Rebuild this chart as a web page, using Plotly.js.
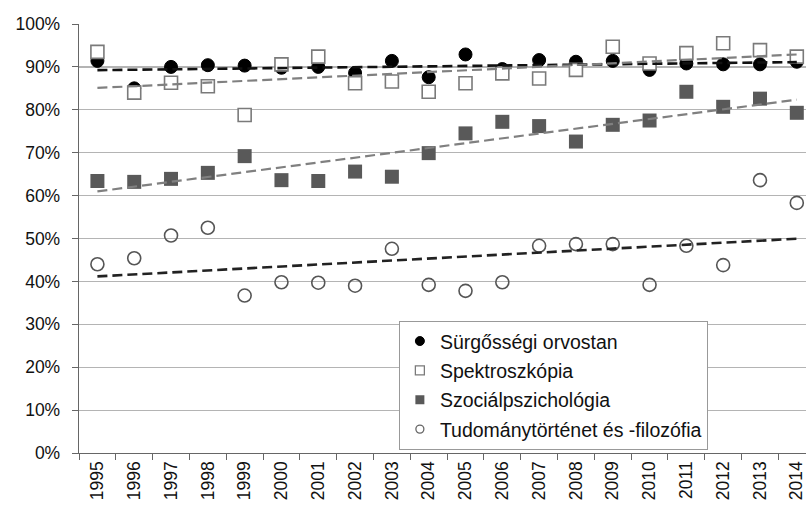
<!DOCTYPE html>
<html>
<head>
<meta charset="utf-8">
<script src="https://cdn.plot.ly/plotly-3.0.1.min.js"></script>
<style>html,body{margin:0;padding:0;background:#fff;}#chart{width:806px;height:509px;}</style>
</head>
<body>
<div id="chart"></div>
<script>
var years = ["1995","1996","1997","1998","1999","2000","2001","2002","2003","2004","2005","2006","2007","2008","2009","2010","2011","2012","2013","2014"];
var surgossegi = [91.4,85.0,90.0,90.4,90.3,89.8,90.0,88.6,91.4,87.6,92.9,89.5,91.6,91.2,91.4,89.3,90.8,90.6,90.6,91.2];
var spektro = [93.5,84.0,86.3,85.5,78.8,90.6,92.4,86.2,86.6,84.2,86.2,88.5,87.3,89.3,94.7,90.8,93.2,95.5,93.9,92.4];
var szocial = [63.4,63.2,63.9,65.3,69.2,63.6,63.4,65.6,64.4,69.9,74.5,77.2,76.2,72.6,76.5,77.5,84.2,80.7,82.6,79.3];
var tudomany = [44.0,45.4,50.7,52.5,36.7,39.8,39.7,39.0,47.6,39.2,37.8,39.8,48.3,48.7,48.7,39.2,48.3,43.8,63.6,58.3];
var names = ["Sürgősségi orvostan","Spektroszkópia","Szociálpszichológia","Tudománytörténet és -filozófia"];

function pct(a){return a.map(function(v){return v/100;});}
function trend(a){
  var n=a.length, sx=0, sy=0, sxx=0, sxy=0;
  for(var i=0;i<n;i++){sx+=i;sy+=a[i];sxx+=i*i;sxy+=i*a[i];}
  var b=(n*sxy-sx*sy)/(n*sxx-sx*sx), c=(sy-b*sx)/n;
  return [c/100,(c+b*(n-1))/100];
}
var ends=[years[0],years[years.length-1]];

var styles=[
  {m:{symbol:"circle",size:13,color:"#000",line:{color:"#000",width:1}}, lm:{symbol:"circle",size:9,color:"#000",line:{color:"#000",width:1}}, t:{color:"#111",width:2.6,dash:"10px,5px"}},
  {m:{symbol:"square",size:13,color:"#fff",line:{color:"#7a7a7a",width:1.6}}, lm:{symbol:"square",size:9,color:"#fff",line:{color:"#7a7a7a",width:1.3}}, t:{color:"#808080",width:2.2,dash:"10px,5px"}},
  {m:{symbol:"square",size:14,color:"#595959",line:{color:"#595959",width:0}}, lm:{symbol:"square",size:9,color:"#595959",line:{color:"#595959",width:0}}, t:{color:"#808080",width:2.2,dash:"10px,5px"}},
  {m:{symbol:"circle-open",size:13,color:"#555",line:{color:"#555",width:1.6}}, lm:{symbol:"circle-open",size:8,color:"#666",line:{color:"#666",width:1.3}}, t:{color:"#222",width:2.6,dash:"10px,5px"}}
];
var series=[surgossegi,spektro,szocial,tudomany];
var data=[];
series.forEach(function(s,i){
  data.push({x:years,y:pct(s),type:"scatter",mode:"markers",marker:styles[i].m,showlegend:false,hoverinfo:"skip"});
});
series.forEach(function(s,i){
  data.push({x:ends,y:trend(s),type:"scatter",mode:"lines",line:styles[i].t,showlegend:false,hoverinfo:"skip"});
});
series.forEach(function(s,i){
  data.push({x:[null],y:[null],type:"scatter",mode:"markers",marker:styles[i].lm,name:names[i],legendgroup:"g"+i,showlegend:true});
});

var layout={
  width:806,height:509,
  margin:{l:79,r:0,t:24,b:56,pad:0},
  paper_bgcolor:"#fff",plot_bgcolor:"#fff",
  font:{family:"Liberation Sans, Arial, sans-serif",color:"#111",size:18},
  xaxis:{type:"category",range:[-0.5,19.25],tickson:"boundaries",ticks:"outside",ticklen:6,tickcolor:"#666",tickwidth:1,
    showline:true,linecolor:"#666",linewidth:1.3,showgrid:false,tickangle:-90,tickfont:{size:17.5,color:"#111"},automargin:false,zeroline:false},
  yaxis:{range:[0,1],tickvals:[0,0.1,0.2,0.3,0.4,0.5,0.6,0.7,0.8,0.9,1],ticktext:["0%","10%","20%","30%","40%","50%","60%","70%","80%","90%","100%"],
    ticks:"outside",ticklen:6,tickcolor:"#666",showline:true,linecolor:"#666",linewidth:1.3,showgrid:true,gridcolor:"#b4b4b4",gridwidth:1.2,
    zeroline:false,tickfont:{size:17.5,color:"#111"},ticklabelstandoff:8,automargin:false},
  legend:{x:0.44,y:0.308,xanchor:"left",yanchor:"top",bgcolor:"#fff",bordercolor:"#999",borderwidth:1,
    font:{size:19.5,color:"#111"},traceorder:"grouped",tracegroupgap:1,itemsizing:"trace",itemwidth:30},
  showlegend:true
};
Plotly.newPlot("chart",data,layout,{staticPlot:true,displayModeBar:false});
</script>
</body>
</html>
